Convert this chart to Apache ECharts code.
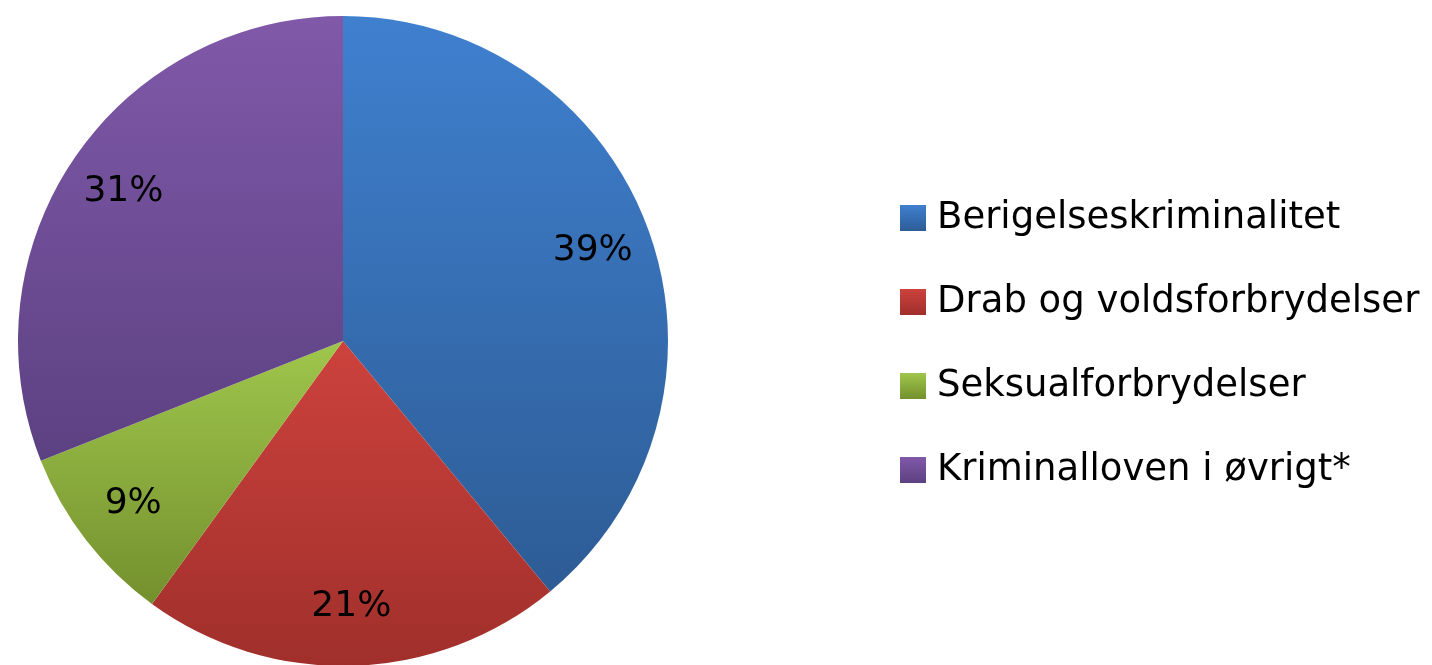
<!DOCTYPE html>
<html>
<head>
<meta charset="utf-8">
<script src="https://cdn.jsdelivr.net/npm/echarts@6/dist/echarts.min.js"></script>
<style>html,body{margin:0;padding:0;background:#fff}#c{width:1432px;height:665px}</style>
</head>
<body>
<div id="c"></div>
<script>
var categories = ['Berigelseskriminalitet', 'Drab og voldsforbrydelser', 'Seksualforbrydelser', 'Kriminalloven i øvrigt*'];
var values = [39, 21, 9, 31];
var topColors = ['#3f80cf', '#cd423d', '#9fc64c', '#8059a9'];
var bottomColors = ['#2d5c95', '#a02f2b', '#74902e', '#5c4182'];

var chart = echarts.init(document.getElementById('c'));
var grad = function (i) {
  return new echarts.graphic.LinearGradient(0, 0, 0, 1, [
    { offset: 0, color: topColors[i] }, { offset: 1, color: bottomColors[i] }
  ]);
};
var pieData = categories.map(function (n, i) {
  return { name: n, value: values[i], itemStyle: { color: grad(i) } };
});
var labelData = categories.map(function (n, i) {
  return { name: n, value: values[i], itemStyle: { color: 'rgba(0,0,0,0)' } };
});
chart.setOption({
  animation: false,
  legend: {
    orient: 'vertical',
    left: 895,
    top: 193,
    itemWidth: 26,
    itemHeight: 26,
    itemGap: 44,
    icon: 'rect',
    data: categories,
    textStyle: { fontFamily: 'DejaVu Sans', fontSize: 37, color: '#000', lineHeight: 40, padding: [0, 0, 0, 6] }
  },
  series: [
    {
      type: 'pie',
      center: [343, 341],
      radius: [0, 325],
      startAngle: 90,
      clockwise: true,
      label: { show: false },
      labelLine: { show: false },
      silent: true,
      data: pieData
    },
    {
      type: 'pie',
      center: [343, 341],
      radius: [0, 525],
      startAngle: 90,
      clockwise: true,
      silent: true,
      legendHoverLink: false,
      label: {
        show: true,
        position: 'inside',
        formatter: '{c}%',
        fontFamily: 'DejaVu Sans',
        fontSize: 36,
        color: '#000'
      },
      labelLine: { show: false },
      data: labelData
    }
  ]
});
</script>
</body>
</html>
